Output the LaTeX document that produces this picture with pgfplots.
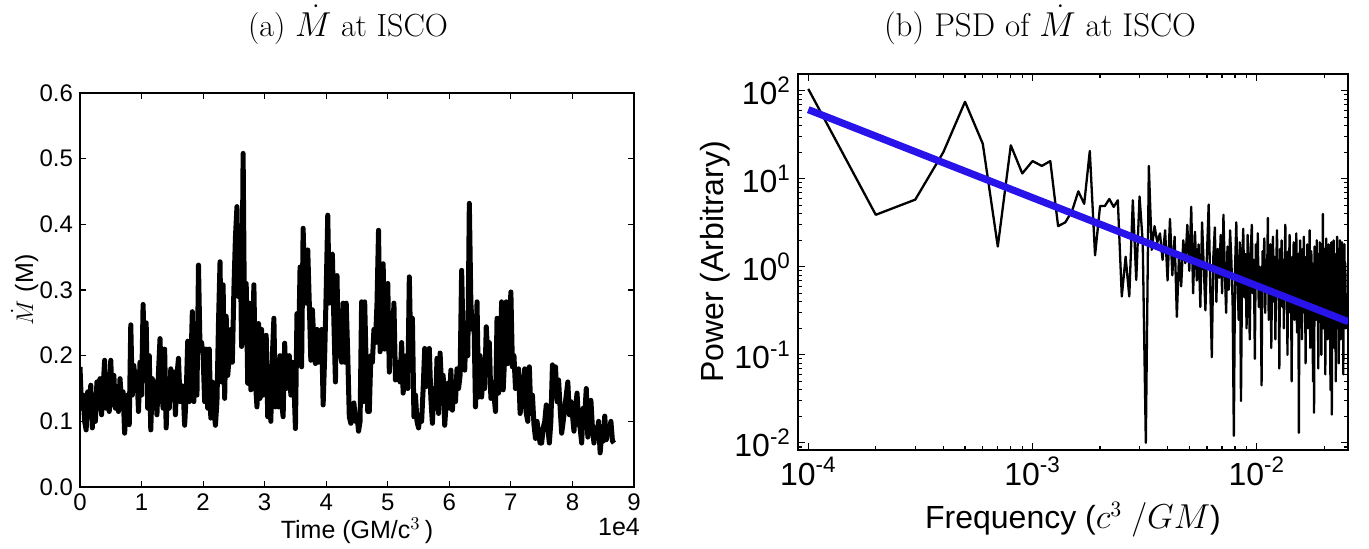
\documentclass[border=0pt]{standalone}
\usepackage{fontspec}
\usepackage{pgfplots}
\usepackage{pgfplotstable}
\pgfplotsset{compat=1.18}
\newfontfamily\arial{Liberation Sans}
\definecolor{fitblue}{RGB}{40,20,235}
\pgfplotstableread{
k P
1 105
2 3.9
3 5.8
4 20
5 75
6 25
7 1.7
8 24
9 11.5
10 15.9
11 14
12 15.9
13 2.9
14 3.2
15 4.3
16 7.2
17 5.2
18 20.7
19 1.35
20 4.9
21 4.9
22 5.9
23 4.8
24 5.7
25 0.46
26 1.3
27 0.46
28 5.7
29 0.71
30 6.3
31 1.9
32 0.01
33 14
34 1.56
35 2.9
36 1.9
37 2.4
38 1.2
39 2.6
40 0.7
41 3.5
42 0.8
43 2.2
44 0.27
45 1.4
46 0.6
47 2.0
48 1.1
49 3.0
50 0.9
51 4.8
52 0.5
53 2.5
54 0.7
55 1.8
56 0.35
57 3.2
58 1.0
59 0.32
60 1.5
61 5.1
62 0.6
63 0.094
64 1.3
65 2.8
66 0.4
67 1.6
68 0.75
69 2.3
70 0.5
71 3.9
72 0.9
73 0.3
74 1.7
75 0.55
76 2.6
77 1.2
78 0.4
79 0.012
80 1.0
81 3.2
82 0.7
83 0.25
84 1.9
85 0.03
86 1.1
87 2.7
88 0.45
89 1.4
90 0.2
91 2.3
92 0.8
93 0.15
94 1.6
95 3.0
96 0.5
97 1.2
98 0.09
99 1.8
100 0.6
101 2.4
102 0.35
103 1.0
104 0.7
105 0.045
106 1.5
107 0.9
108 2.1
109 0.3
110 1.2
111 0.6
112 3.6
113 0.25
114 1.0
115 1.8
116 0.12
117 0.8
118 2.2
119 0.4
120 1.3
121 0.15
122 0.9
123 2.6
124 0.5
125 1.1
126 0.07
127 1.6
128 0.6
129 2.0
130 0.35
131 1.2
132 0.2
133 0.9
134 3.0
135 0.45
136 1.0
137 0.1
138 1.5
139 0.7
140 2.3
141 0.3
142 0.85
143 0.05
144 1.3
145 0.55
146 1.9
147 0.25
148 1.0
149 0.6
150 2.4
151 0.18
152 0.8
153 1.4
154 0.013
155 0.9
156 2.0
157 0.4
158 1.1
159 0.15
160 1.6
161 0.5
162 2.2
163 0.3
164 0.9
165 0.08
166 1.3
167 0.6
168 1.8
169 0.2
170 1.0
171 0.4
172 2.6
173 0.12
174 0.8
175 1.5
176 0.35
177 1.1
178 0.05
179 0.9
180 0.022
181 1.7
182 0.6
183 1.2
184 0.25
185 2.0
186 0.45
187 0.9
188 0.07
189 1.4
190 0.5
191 1.9
192 0.3
193 0.8
194 0.1
195 1.2
196 0.6
197 4.0
198 0.2
199 1.0
200 0.4
201 1.6
202 0.06
203 0.9
204 2.1
205 0.35
206 1.1
207 0.15
208 0.7
209 1.8
210 0.25
211 1.3
212 0.5
213 0.04
214 1.0
215 1.9
216 0.021
217 0.8
218 1.5
219 0.3
220 2.0
221 0.12
222 0.9
223 1.4
224 0.4
225 0.05
226 1.2
227 0.6
228 2.2
229 0.2
230 0.9
231 1.6
232 0.08
233 1.1
234 0.35
235 2.0
236 0.5
237 0.15
238 1.3
239 0.7
240 1.9
241 0.25
242 1.0
243 0.06
244 1.5
245 0.4
246 1.8
247 0.3
248 1.1
249 0.2
250 0.5
}\psdtable
\begin{document}
\begin{tikzpicture}
\path[use as bounding box] (0,0) rectangle (684.5pt,274pt);
\node[font=\fontsize{16}{19}\selectfont] at (174pt,261.5pt) {(a) $\dot{M}$ at ISCO};
\node[font=\fontsize{16.5}{19}\selectfont] at (520pt,261.5pt) {(b) PSD of $\dot{M}$ at ISCO};
\begin{axis}[
  at={(40pt,30.5pt)}, anchor=south west, scale only axis,
  width=277pt, height=197pt,
  xmin=0, xmax=9, ymin=0, ymax=0.6,
  xtick={0,1,...,9}, ytick={0,0.1,0.2,0.3,0.4,0.5,0.6},
  tick align=inside, major tick length=3pt,
  tick style={line width=0.6pt, black},
  axis line style={line width=0.7pt},
  /pgf/number format/assume math mode=true,
  tick label style={font=\arial\fontsize{12}{14}\selectfont},
  yticklabel style={/pgf/number format/.cd, fixed, fixed zerofill, precision=1},
  xticklabel style={/pgf/number format/.cd, fixed, precision=0},
  xlabel={{\arial Time (GM/c}$^3$\,{\arial )}},
  ylabel={$\dot{M}$\ {\arial (M)}},
  label style={font=\fontsize{12.5}{15}\selectfont},
  xlabel style={at={(axis description cs:0.5,-0.112)}, anchor=center},
  ylabel style={at={(axis description cs:-0.1,0.5)}, anchor=center},
]
\addplot[black, line width=2.5pt, line join=round] coordinates {
(0.000,0.183) (0.025,0.12) (0.050,0.14) (0.075,0.10)
(0.100,0.087) (0.125,0.145) (0.150,0.11) (0.175,0.155)
(0.200,0.09) (0.225,0.14) (0.250,0.10) (0.275,0.16)
(0.300,0.12) (0.325,0.165) (0.350,0.11) (0.375,0.15)
(0.400,0.193) (0.425,0.12) (0.450,0.16) (0.475,0.115)
(0.500,0.193) (0.525,0.125) (0.550,0.17) (0.575,0.12)
(0.600,0.15) (0.625,0.115) (0.650,0.165) (0.675,0.13)
(0.700,0.145) (0.725,0.082) (0.750,0.12) (0.775,0.14)
(0.800,0.095) (0.825,0.247) (0.850,0.14) (0.875,0.185)
(0.900,0.15) (0.925,0.175) (0.950,0.115) (0.975,0.19)
(1.000,0.14) (1.025,0.278) (1.050,0.18) (1.075,0.25)
(1.100,0.12) (1.125,0.2) (1.150,0.087) (1.175,0.165)
(1.200,0.13) (1.225,0.16) (1.250,0.11) (1.275,0.175)
(1.300,0.226) (1.325,0.15) (1.350,0.12) (1.375,0.21)
(1.400,0.09) (1.425,0.16) (1.450,0.12) (1.475,0.18)
(1.500,0.14) (1.525,0.175) (1.550,0.11) (1.575,0.17)
(1.600,0.196) (1.625,0.13) (1.650,0.155) (1.675,0.15)
(1.700,0.094) (1.725,0.14) (1.750,0.222) (1.775,0.13)
(1.800,0.18) (1.825,0.267) (1.850,0.13) (1.875,0.23)
(1.900,0.14) (1.925,0.338) (1.950,0.21) (1.975,0.22)
(2.000,0.2) (2.025,0.13) (2.050,0.21) (2.075,0.12)
(2.100,0.21) (2.125,0.105) (2.150,0.16) (2.175,0.12)
(2.200,0.094) (2.225,0.13) (2.250,0.25) (2.275,0.343)
(2.300,0.16) (2.325,0.308) (2.350,0.135) (2.375,0.26)
(2.400,0.17) (2.425,0.2) (2.450,0.24) (2.475,0.19)
(2.500,0.3) (2.525,0.38) (2.550,0.427) (2.575,0.29)
(2.600,0.394) (2.625,0.214) (2.650,0.508) (2.675,0.22)
(2.700,0.31) (2.725,0.158) (2.750,0.28) (2.775,0.148)
(2.800,0.21) (2.825,0.308) (2.850,0.16) (2.875,0.122)
(2.900,0.249) (2.925,0.135) (2.950,0.24) (2.975,0.14)
(3.000,0.19) (3.025,0.231) (3.050,0.107) (3.075,0.16)
(3.100,0.1) (3.125,0.2) (3.150,0.257) (3.175,0.122)
(3.200,0.16) (3.225,0.122) (3.250,0.2) (3.275,0.13)
(3.300,0.107) (3.325,0.219) (3.350,0.15) (3.375,0.18)
(3.400,0.2) (3.425,0.14) (3.450,0.19) (3.475,0.16)
(3.500,0.089) (3.525,0.264) (3.550,0.2) (3.575,0.335)
(3.600,0.183) (3.625,0.394) (3.650,0.3) (3.675,0.28)
(3.700,0.361) (3.725,0.28) (3.750,0.193) (3.775,0.27)
(3.800,0.22) (3.825,0.188) (3.850,0.24) (3.875,0.19)
(3.900,0.21) (3.925,0.24) (3.950,0.125) (3.975,0.2)
(4.000,0.3) (4.025,0.414) (4.050,0.28) (4.075,0.35)
(4.100,0.355) (4.125,0.25) (4.150,0.16) (4.175,0.322)
(4.200,0.2) (4.225,0.25) (4.250,0.19) (4.275,0.28)
(4.300,0.19) (4.325,0.28) (4.350,0.2) (4.375,0.107)
(4.400,0.097) (4.425,0.12) (4.450,0.128) (4.475,0.1)
(4.500,0.11) (4.525,0.085) (4.550,0.1) (4.575,0.282)
(4.600,0.13) (4.625,0.282) (4.650,0.18) (4.675,0.115)
(4.700,0.115) (4.725,0.2) (4.750,0.19) (4.775,0.24)
(4.800,0.22) (4.825,0.28) (4.850,0.391) (4.875,0.206)
(4.900,0.24) (4.925,0.34) (4.950,0.21) (4.975,0.25)
(5.000,0.31) (5.025,0.175) (5.050,0.25) (5.075,0.21)
(5.100,0.28) (5.125,0.163) (5.150,0.19) (5.175,0.17)
(5.200,0.16) (5.225,0.22) (5.250,0.143) (5.275,0.18)
(5.300,0.2) (5.325,0.15) (5.350,0.32) (5.375,0.2)
(5.400,0.257) (5.425,0.107) (5.450,0.14) (5.475,0.1)
(5.500,0.09) (5.525,0.11) (5.550,0.1) (5.575,0.15)
(5.600,0.211) (5.625,0.153) (5.650,0.18) (5.675,0.211)
(5.700,0.135) (5.725,0.097) (5.750,0.15) (5.775,0.12)
(5.800,0.196) (5.825,0.112) (5.850,0.204) (5.875,0.15)
(5.900,0.17) (5.925,0.094) (5.950,0.13) (5.975,0.158)
(6.000,0.12) (6.025,0.178) (6.050,0.117) (6.075,0.16)
(6.100,0.13) (6.125,0.18) (6.150,0.15) (6.175,0.17)
(6.200,0.33) (6.225,0.22) (6.250,0.178) (6.275,0.25)
(6.300,0.2) (6.325,0.432) (6.350,0.28) (6.375,0.24)
(6.400,0.26) (6.425,0.122) (6.450,0.282) (6.475,0.137)
(6.500,0.2) (6.525,0.137) (6.550,0.18) (6.575,0.15)
(6.600,0.244) (6.625,0.2) (6.650,0.22) (6.675,0.135)
(6.700,0.16) (6.725,0.14) (6.750,0.115) (6.775,0.257)
(6.800,0.143) (6.825,0.2) (6.850,0.282) (6.875,0.148)
(6.900,0.2) (6.925,0.282) (6.950,0.188) (6.975,0.24)
(7.000,0.297) (7.025,0.183) (7.050,0.2) (7.075,0.15)
(7.100,0.16) (7.125,0.18) (7.150,0.112) (7.175,0.13)
(7.200,0.15) (7.225,0.18) (7.250,0.112) (7.275,0.1)
(7.300,0.183) (7.325,0.112) (7.350,0.14) (7.375,0.095)
(7.400,0.074) (7.425,0.1) (7.450,0.08) (7.475,0.067)
(7.500,0.067) (7.525,0.09) (7.550,0.1) (7.575,0.125)
(7.600,0.09) (7.625,0.067) (7.650,0.1) (7.675,0.186)
(7.700,0.14) (7.725,0.183) (7.750,0.13) (7.775,0.163)
(7.800,0.12) (7.825,0.082) (7.850,0.1) (7.875,0.12)
(7.900,0.14) (7.925,0.16) (7.950,0.11) (7.975,0.13)
(8.000,0.11) (8.025,0.085) (8.050,0.12) (8.075,0.143)
(8.100,0.1) (8.125,0.09) (8.150,0.067) (8.175,0.12)
(8.200,0.11) (8.225,0.15) (8.250,0.076) (8.275,0.1)
(8.300,0.132) (8.325,0.09) (8.350,0.067) (8.375,0.09)
(8.400,0.08) (8.425,0.1) (8.450,0.052) (8.475,0.08)
(8.500,0.07) (8.525,0.108) (8.550,0.072) (8.575,0.09)
(8.600,0.085) (8.625,0.1) (8.650,0.07) (8.675,0.067)
};
\end{axis}
\node[font=\arial\fontsize{12.5}{14}\selectfont] at (309.5pt,10.5pt) {1e4};
\begin{axis}[
  at={(399pt,49pt)}, anchor=south west, scale only axis,
  width=275pt, height=188pt,
  xmode=log, ymode=log,
  xmin=0.00009, xmax=0.0255, ymin=0.0083, ymax=155,
  xtick={0.0001,0.001,0.01},
  xticklabels={10\textsuperscript{-4},10\textsuperscript{-3},10\textsuperscript{-2}},
  minor xtick={0.0002,0.0003,0.0004,0.0005,0.0006,0.0007,0.0008,0.0009,0.002,0.003,0.004,0.005,0.006,0.007,0.008,0.009,0.02},
  ytick={0.01,0.1,1,10,100},
  yticklabels={10\textsuperscript{-2},10\textsuperscript{-1},10\textsuperscript{0},10\textsuperscript{1},10\textsuperscript{2}},
  minor ytick={0.009,0.02,0.03,0.04,0.05,0.06,0.07,0.08,0.09,0.2,0.3,0.4,0.5,0.6,0.7,0.8,0.9,2,3,4,5,6,7,8,9,20,30,40,50,60,70,80,90},
  tick align=inside, major tick length=3.5pt, minor tick length=2pt,
  tick style={line width=0.6pt, black},
  axis line style={line width=0.7pt},
  tick label style={font=\arial\fontsize{16}{18}\selectfont},
  xlabel={{\arial Frequency (}$c^3$ $/GM${\arial )}},
  ylabel={\arial Power (Arbitrary)},
  label style={font=\arial\fontsize{16}{19}\selectfont},
  xlabel style={at={(axis description cs:0.5,-0.186)}, anchor=center},
  ylabel style={at={(axis description cs:-0.151,0.5)}, anchor=center},
]
\addplot[black, line width=1.15pt, line join=round] table[x expr=\thisrow{k}*0.0001, y=P] {\psdtable};
\addplot[fitblue, line width=3.6pt] coordinates {(0.0001,61) (0.0256,0.238)};
\end{axis}
\end{tikzpicture}
\end{document}
